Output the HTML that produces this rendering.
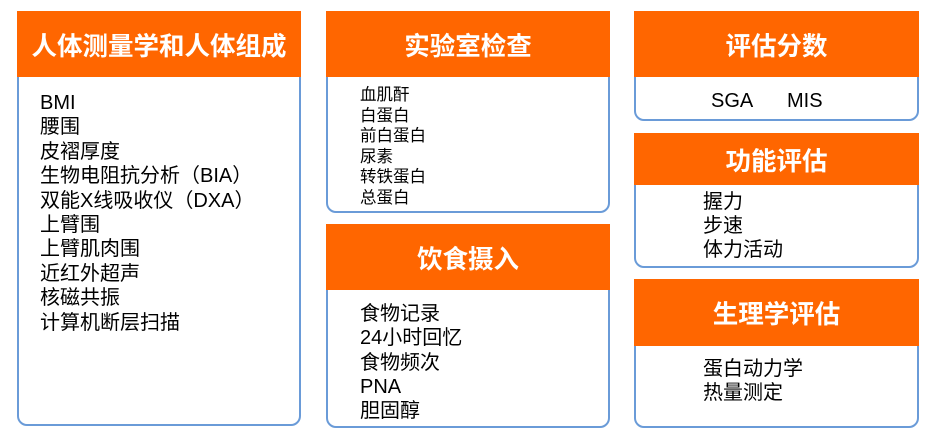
<!DOCTYPE html>
<html><head><meta charset="utf-8"><style>
body{margin:0;width:941px;height:441px;background:#fff;position:relative;overflow:hidden;font-family:"Liberation Sans","Noto Sans CJK SC",sans-serif;}
.b{position:absolute;border:2px solid #6a9bd8;border-radius:0 0 10px 10px;box-sizing:border-box;background:#fff}
.h{position:absolute;background:#ff6600;color:#fff;font-weight:bold;font-size:25.5px;display:flex;align-items:center;justify-content:center;}
.t{position:absolute;color:#000;font-size:20px;line-height:24.4px;white-space:pre}
</style></head><body>
<div class="b" style="left:17px;top:11px;width:284px;height:415px"></div>
<div class="h" style="left:17px;top:11px;width:284px;height:66px">人体测量学和人体组成</div>
<div class="t" style="left:40px;top:91px">BMI
腰围
皮褶厚度
生物电阻抗分析（BIA）
双能X线吸收仪（DXA）
上臂围
上臂肌肉围
近红外超声
核磁共振
计算机断层扫描</div>

<div class="b" style="left:326px;top:11px;width:284px;height:202px"></div>
<div class="h" style="left:326px;top:11px;width:284px;height:66px">实验室检查</div>
<div class="t" style="left:360px;top:85px;font-size:16.5px;line-height:20.6px">血肌酐
白蛋白
前白蛋白
尿素
转铁蛋白
总蛋白</div>

<div class="b" style="left:326px;top:224px;width:284px;height:204px"></div>
<div class="h" style="left:326px;top:224px;width:284px;height:66px">饮食摄入</div>
<div class="t" style="left:360px;top:302px;line-height:24.3px">食物记录
24小时回忆
食物频次
PNA
胆固醇</div>

<div class="b" style="left:634px;top:11px;width:285px;height:110px"></div>
<div class="h" style="left:634px;top:11px;width:285px;height:66px">评估分数</div>
<div class="t" style="left:711px;top:89px">SGA</div>
<div class="t" style="left:787px;top:89px">MIS</div>

<div class="b" style="left:634px;top:133px;width:285px;height:135px"></div>
<div class="h" style="left:634px;top:133px;width:285px;height:52px">功能评估</div>
<div class="t" style="left:703px;top:190px;line-height:24px">握力
步速
体力活动</div>

<div class="b" style="left:634px;top:279px;width:285px;height:149px"></div>
<div class="h" style="left:634px;top:279px;width:285px;height:67px">生理学评估</div>
<div class="t" style="left:703px;top:357px;line-height:24px">蛋白动力学
热量测定</div>
</body></html>
